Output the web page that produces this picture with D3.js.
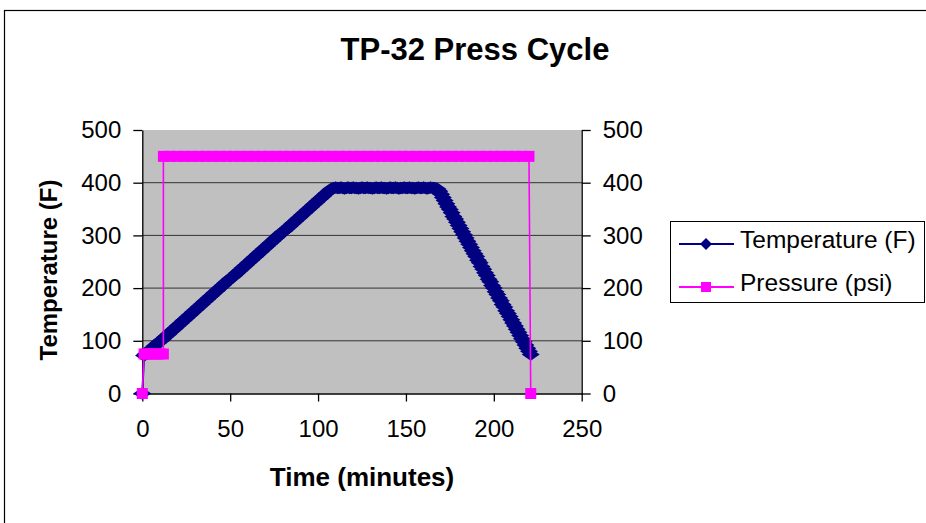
<!DOCTYPE html>
<html>
<head>
<meta charset="utf-8">
<script src="https://cdn.jsdelivr.net/npm/d3@7"></script>
<style>
html,body{margin:0;padding:0;background:#fff;}
svg{display:block;font-family:"Liberation Sans",Arial,sans-serif;}
</style>
</head>
<body>
<svg id="chart" width="926" height="523"></svg>
<script>
const title = "TP-32 Press Cycle";
const xTitle = "Time (minutes)";
const yTitle = "Temperature (F)";
const seriesNames = ["Temperature (F)", "Pressure (psi)"];
const xTicks = [0, 50, 100, 150, 200, 250];
const yTicks = [0, 100, 200, 300, 400, 500];
const gridTicks = [100, 200, 300, 400];

const tempTime = [
  0,1,2,3,4,5,6,7,8,9,
  10,11,12,13,14,15,16,17,18,19,
  20,21,22,23,24,25,26,27,28,29,
  30,31,32,33,34,35,36,37,38,39,
  40,41,42,43,44,45,46,47,48,49,
  50,51,52,53,54,55,56,57,58,59,
  60,61,62,63,64,65,66,67,68,69,
  70,71,72,73,74,75,76,77,78,79,
  80,81,82,83,84,85,86,87,88,89,
  90,91,92,93,94,95,96,97,98,99,
  100,101,102,103,104,105,106,107,108,109,
  110,111,112,113,114,115,116,117,118,119,
  120,121,122,123,124,125,126,127,128,129,
  130,131,132,133,134,135,136,137,138,139,
  140,141,142,143,144,145,146,147,148,149,
  150,151,152,153,154,155,156,157,158,159,
  160,161,162,163,164,165,166,167,168,169,
  170,171,172,173,174,175,176,177,178,179,
  180,181,182,183,184,185,186,187,188,189,
  190,191,192,193,194,195,196,197,198,199,
  200,201,202,203,204,205,206,207,208,209,
  210,211,212,213,214,215,216,217,218,219,
  220,221];
const tempValue = [
  0,72,75,78,81,84,87,90,93,96,
  99,101,104,107,110,113,116,119,122,125,
  128,131,134,137,140,143,146,149,152,155,
  158,161,164,167,170,173,176,179,182,185,
  188,191,194,197,200,203,206,209,212,215,
  218,220,223,226,229,232,235,238,241,244,
  247,250,253,256,259,262,265,268,271,274,
  277,280,283,286,289,292,295,298,301,304,
  307,309,312,315,318,321,324,327,330,333,
  336,339,342,345,348,351,354,357,360,363,
  366,369,372,375,378,381,384,387,389,390,
  391,390,390,391,390,389,390,391,390,390,
  391,390,390,389,390,391,390,390,391,390,
  390,389,390,391,390,390,391,390,390,389,
  390,391,390,390,391,390,389,390,390,391,
  390,390,391,390,390,389,390,391,390,390,
  391,390,389,390,391,390,390,389,388,384,
  378,372,366,360,354,349,343,336,331,325,
  319,313,307,301,295,289,283,277,271,265,
  260,253,248,241,236,229,224,217,212,205,
  200,193,188,181,176,169,164,157,152,146,
  140,134,128,122,116,110,104,98,92,86,
  80,74];

const pressTime = [0,1,2,4,6,8,10,12,
  12,16,20,24,28,32,36,40,44,48,
  52,56,60,64,68,72,76,80,84,88,
  92,96,100,104,108,112,116,120,124,128,
  132,136,140,144,148,152,156,160,164,168,
  172,176,180,184,188,192,196,200,204,208,
  212,216,220,
  221];
const pressValue = [0,75,75,75,75,75,75,75,
  450,450,450,450,450,450,450,450,450,450,
  450,450,450,450,450,450,450,450,450,450,
  450,450,450,450,450,450,450,450,450,450,
  450,450,450,450,450,450,450,450,450,450,
  450,450,450,450,450,450,450,450,450,450,
  450,450,450,
  0];

const tempData = tempTime.map((t, i) => ({t, v: tempValue[i]}));
const pressData = pressTime.map((t, i) => ({t, v: pressValue[i]}));

const svg = d3.select("#chart");
const NAVY = "#000080", PINK = "#FF00FF";
const L = 142.3, R = 581.7, T = 130, B = 393.5;

const x = d3.scaleLinear().domain([0, 250]).range([L, R]);
const yL = d3.scaleLinear().domain([0, 500]).range([B, T]);
const yR = d3.scaleLinear().domain([0, 500]).range([B, T]);

// outer chart border
svg.append("rect").attr("x", 4.5).attr("y", 10.5).attr("width", 940).attr("height", 540)
  .attr("fill", "#fff").attr("stroke", "#000").attr("stroke-width", 1.2);

// title
svg.append("text").attr("x", 475).attr("y", 60).attr("text-anchor", "middle")
  .attr("font-size", 31).attr("font-weight", "bold").text(title);

// plot area
svg.append("rect").attr("x", L).attr("y", T).attr("width", R - L).attr("height", B - T)
  .attr("fill", "#C0C0C0");

// gridlines
svg.append("g").selectAll("line").data(gridTicks).join("line")
  .attr("x1", L).attr("x2", R).attr("y1", d => yL(d)).attr("y2", d => yL(d))
  .attr("stroke", "#333").attr("stroke-width", 1);

function styleAxis(g) {
  g.select(".domain").attr("stroke", "#000").attr("stroke-width", 1.3);
  g.selectAll(".tick line").attr("stroke", "#000").attr("stroke-width", 1.3);
  g.selectAll(".tick text").attr("font-size", 24).attr("fill", "#000")
    .attr("font-family", "'Liberation Sans',Arial,sans-serif");
}

svg.append("g").attr("transform", `translate(${L},0)`)
  .call(d3.axisLeft(yL).tickValues(yTicks).tickSize(9).tickSizeOuter(0).tickPadding(12))
  .call(styleAxis);
svg.append("g").attr("transform", `translate(${R},0)`)
  .call(d3.axisRight(yR).tickValues(yTicks).tickSize(9).tickSizeOuter(0).tickPadding(12))
  .call(styleAxis);
svg.append("g").attr("transform", `translate(0,${B})`)
  .call(d3.axisBottom(x).tickValues(xTicks).tickSize(8).tickSizeOuter(0).tickPadding(18))
  .call(styleAxis);

// axis titles
svg.append("text").attr("x", 362).attr("y", 486).attr("text-anchor", "middle")
  .attr("font-size", 26).attr("font-weight", "bold").text(xTitle);
svg.append("text").attr("transform", `translate(57,270) rotate(-90)`)
  .attr("text-anchor", "middle").attr("font-size", 24).attr("font-weight", "bold").text(yTitle);

const diamond = (rx, ry) => `M0,${-ry}L${rx},0L0,${ry}L${-rx},0Z`;

// temperature series
const lineT = d3.line().x(d => x(d.t)).y(d => yL(d.v));
svg.append("path").datum(tempData).attr("d", lineT)
  .attr("fill", "none").attr("stroke", NAVY).attr("stroke-width", 2);
svg.append("g").selectAll("path").data(tempData).join("path")
  .attr("transform", d => `translate(${x(d.t)},${yL(d.v)})`)
  .attr("d", diamond(9, 6.2)).attr("fill", NAVY);

// pressure series
const lineP = d3.line().x(d => x(d.t)).y(d => yR(d.v));
svg.append("path").datum(pressData).attr("d", lineP)
  .attr("fill", "none").attr("stroke", PINK).attr("stroke-width", 1.6);
svg.append("g").selectAll("rect").data(pressData).join("rect")
  .attr("x", d => x(d.t) - 5.5).attr("y", d => yR(d.v) - 5.5)
  .attr("width", 11).attr("height", 11).attr("fill", PINK);

// legend
const lg = svg.append("g");
lg.append("rect").attr("x", 670.5).attr("y", 221.5).attr("width", 254).attr("height", 81)
  .attr("fill", "#fff").attr("stroke", "#000").attr("stroke-width", 1);
const legendRows = [
  {name: seriesNames[0], color: NAVY, y: 244, shape: "diamond"},
  {name: seriesNames[1], color: PINK, y: 287, shape: "square"}
];
legendRows.forEach(r => {
  lg.append("line").attr("x1", 679).attr("x2", 734).attr("y1", r.y).attr("y2", r.y)
    .attr("stroke", r.color).attr("stroke-width", 2);
  if (r.shape === "diamond") {
    lg.append("path").attr("transform", `translate(706,${r.y})`).attr("d", diamond(6, 6)).attr("fill", r.color);
  } else {
    lg.append("rect").attr("x", 701).attr("y", r.y - 5).attr("width", 10).attr("height", 10).attr("fill", r.color);
  }
  lg.append("text").attr("x", 740).attr("y", r.y + 4).attr("font-size", 24.5).attr("fill", "#000").text(r.name);
});
</script>
</body>
</html>
